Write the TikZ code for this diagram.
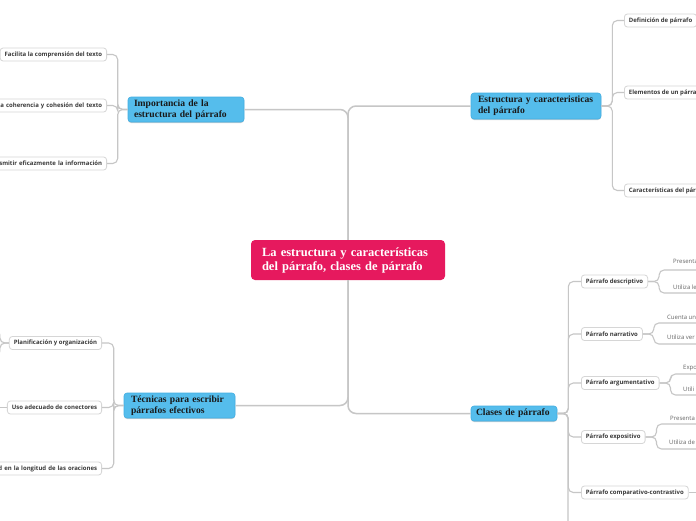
\documentclass[tikz,border=0pt]{standalone}
\usepackage{fontspec}
\usetikzlibrary{shadows}
\newfontfamily\titlef{Liberation Serif}
\newfontfamily\smallf{Open Sans}
\definecolor{cpink}{HTML}{E6195E}
\definecolor{cblue}{HTML}{55BDEC}
\definecolor{cblueb}{HTML}{43AEE2}
\definecolor{cline}{HTML}{C6C6C6}
\definecolor{cbox}{HTML}{D6D6D6}
\definecolor{ctext}{HTML}{3A3A3A}
\definecolor{ctext2}{HTML}{666666}
\tikzset{
  central/.style={fill=cpink, rounded corners=4pt, text=white,
    font=\titlef\bfseries\fontsize{12.5}{14}\selectfont, align=left,
    inner xsep=11pt, inner ysep=0pt, minimum height=40pt, text width=172pt},
  topic/.style={fill=cblue, draw=cblueb, line width=0.6pt, rounded corners=3pt,
    text=black!90, font=\titlef\bfseries\fontsize{9.6}{11}\selectfont, align=left,
    inner xsep=7pt, inner ysep=0pt,
    drop shadow={shadow xshift=0pt, shadow yshift=-1pt, opacity=0.18, fill=black}},
  sub/.style={fill=white, draw=cbox, line width=0.8pt, rounded corners=3pt,
    text=ctext, font=\smallf\bfseries\fontsize{6}{7}\selectfont,
    inner xsep=4.5pt, inner ysep=0pt, minimum height=13pt},
  cutleft/.style={text width=130pt, align=right},
  leaf/.style={text=ctext2, font=\smallf\fontsize{6}{7}\selectfont,
    anchor=base west, inner sep=0pt},
  conn/.style={draw=cline, line width=1.1pt, rounded corners=5pt},
  trunk/.style={draw=cline, line width=1.5pt, rounded corners=8pt}
}
\begin{document}
\begin{tikzpicture}[x=1pt,y=-1pt]
\useasboundingbox (0,0) rectangle (696,520);
\clip (0,0) rectangle (696,520);
\fill[white] (0,0) rectangle (696,520);

% central and main topics
\node[central] (c) at (348,260) {La estructura y características\\del párrafo, clases de párrafo};
\node[topic, text width=104pt, inner xsep=6pt, minimum height=25pt] (imp) at (186,109.5) {Importancia de la\\estructura del párrafo};
\node[topic, text width=116pt, minimum height=26pt] (est) at (536,106) {Estructura y caracteristicas\\del párrafo};
\node[topic, text width=97pt, minimum height=25pt] (tec) at (179.5,405.5) {Técnicas para escribir\\párrafos efectivos};
\node[topic, text width=76pt, inner xsep=5pt, minimum height=15pt] (cla) at (514,413.5) {Clases de párrafo};

\draw[trunk] (c.north) |- (imp.east);
\draw[trunk] (c.north) |- (est.west);
\draw[trunk] (c.south) |- (tec.east);
\draw[trunk] (c.south) |- (cla.west);

% Importancia children
\node[sub, anchor=east] (i1) at (107,54.5) {Facilita la comprensión del texto};
\node[sub, anchor=east, cutleft] (i2) at (107,105.5) {la coherencia y cohesión del texto};
\node[sub, anchor=east, cutleft] (i3) at (107,163.5) {smitir eficazmente la información};
\foreach \n in {i1,i2,i3} \draw[conn] (imp.west) -- ++(-10,0) |- (\n.east);

% Estructura children
\node[sub, anchor=west] (e1) at (624,20.5) {Definición de párrafo};
\node[sub, anchor=west] (e2) at (624,92.5) {Elementos de un párrafo};
\node[sub, anchor=west] (e3) at (624,190.5) {Características del párrafo};
\foreach \n in {e1,e2,e3} \draw[conn] (est.east) -- ++(11,0) |- (\n.west);

% Técnicas children
\node[sub, anchor=east] (t1) at (102,343) {Planificación y organización};
\node[sub, anchor=east] (t2) at (102,407.5) {Uso adecuado de conectores};
\node[sub, anchor=east, cutleft] (t3) at (102,468.5) {d en la longitud de las oraciones};
\foreach \n in {t1,t2,t3} \draw[conn] (tec.west) -- ++(-10,0) |- (\n.east);
\coordinate (t1u) at (-12,330);
\coordinate (t1d) at (-12,356);
\coordinate (t2l) at (-5,407.5);
\draw[conn] (t1.west) -- ++(-9,0) |- (t1u);
\draw[conn] (t1.west) -- ++(-9,0) |- (t1d);
\draw[conn] (t2.west) -- (t2l);

% Clases children
\node[sub, anchor=west] (d1) at (581,281.5) {Párrafo descriptivo};
\node[sub, anchor=west] (d2) at (581,334) {Párrafo narrativo};
\node[sub, anchor=west] (d3) at (581,383) {Párrafo argumentativo};
\node[sub, anchor=west] (d4) at (581,437) {Párrafo expositivo};
\node[sub, anchor=west] (d5) at (581,492.5) {Párrafo comparativo-contrastivo};
\foreach \n in {d1,d2,d3,d4,d5} \draw[conn] (cla.east) -- ++(11,0) |- (\n.west);
\coordinate (cend) at (568,535);
\draw[conn] (cla.east) -| (cend);

% grandchildren (underlined leaves)
\coordinate (g1a) at (710,270);   \coordinate (g1b) at (710,293);
\coordinate (g2a) at (710,323);   \coordinate (g2b) at (710,344);
\coordinate (g3a) at (710,374);   \coordinate (g3b) at (710,395);
\coordinate (g4a) at (710,424);   \coordinate (g4b) at (710,449);
\coordinate (g5)  at (710,492.5);
\draw[conn] (d1.east) -- ++(11,0) |- (g1a);
\draw[conn] (d1.east) -- ++(11,0) |- (g1b);
\draw[conn] (d2.east) -- ++(11,0) |- (g2a);
\draw[conn] (d2.east) -- ++(11,0) |- (g2b);
\draw[conn] (d3.east) -- ++(11,0) |- (g3a);
\draw[conn] (d3.east) -- ++(11,0) |- (g3b);
\draw[conn] (d4.east) -- ++(11,0) |- (g4a);
\draw[conn] (d4.east) -- ++(11,0) |- (g4b);
\draw[conn] (d5.east) -- (g5);

\node[leaf] (l1a) at (673,263.5) {Presenta};
\node[leaf] (l1b) at (673,289.5) {Utiliza le};
\node[leaf] (l2a) at (667,319) {Cuenta una};
\node[leaf] (l2b) at (667,339.5) {Utiliza ver};
\node[leaf] (l3a) at (683,369.5) {Expo};
\node[leaf] (l3b) at (683,391) {Utili};
\node[leaf] (l4a) at (670,420) {Presenta};
\node[leaf] (l4b) at (669,444.5) {Utiliza de};
\end{tikzpicture}
\end{document}
